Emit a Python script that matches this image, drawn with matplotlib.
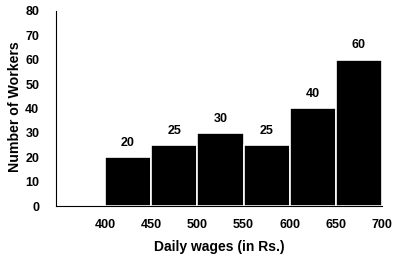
import matplotlib
matplotlib.use("Agg")
import matplotlib.pyplot as plt

bin_edges = [400, 450, 500, 550, 600, 650, 700]
counts = [20, 25, 30, 25, 40, 60]
y_ticks = [0, 10, 20, 30, 40, 50, 60, 70, 80]

plt.rcParams['font.family'] = ['Liberation Sans', 'DejaVu Sans']

fig = plt.figure(figsize=(3.98, 2.59), dpi=100)
ax = fig.add_axes([0.1407, 0.2046, 0.8193, 0.753])

lefts = bin_edges[:-1]
widths = [b - a for a, b in zip(bin_edges[:-1], bin_edges[1:])]
bars = ax.bar(lefts, counts, width=widths, align='edge', color='black',
              edgecolor='white', linewidth=1.2)
for l, w, c in zip(lefts, widths, counts):
    ax.annotate(str(c), (l + w / 2, c), xytext=(0, 6), textcoords='offset points',
                ha='center', va='bottom', fontsize=9, fontweight='bold')

ax.set_xlim(347, 700)
ax.set_ylim(0, 80)
ax.set_xticks(bin_edges)
ax.set_yticks(y_ticks)
ax.tick_params(axis='both', length=0, labelsize=9)
ax.tick_params(axis='y', pad=12)
ax.tick_params(axis='x', pad=9)
for lab in ax.get_xticklabels() + ax.get_yticklabels():
    lab.set_fontweight('bold')
for s in ['top', 'right']:
    ax.spines[s].set_visible(False)
ax.spines['left'].set_linewidth(0.8)
ax.spines['bottom'].set_linewidth(0.8)

xl = ax.set_xlabel('Daily wages (in Rs.)', fontsize=10, fontweight='bold')
yl = ax.set_ylabel('Number of Workers', fontsize=10.2, fontweight='bold')
xl.set_va('center')
yl.set_va('center')
ax.xaxis.set_label_coords(0.5, -0.21)
ax.yaxis.set_label_coords(-0.127, 0.51)

fig.savefig('out.png', dpi=100)
